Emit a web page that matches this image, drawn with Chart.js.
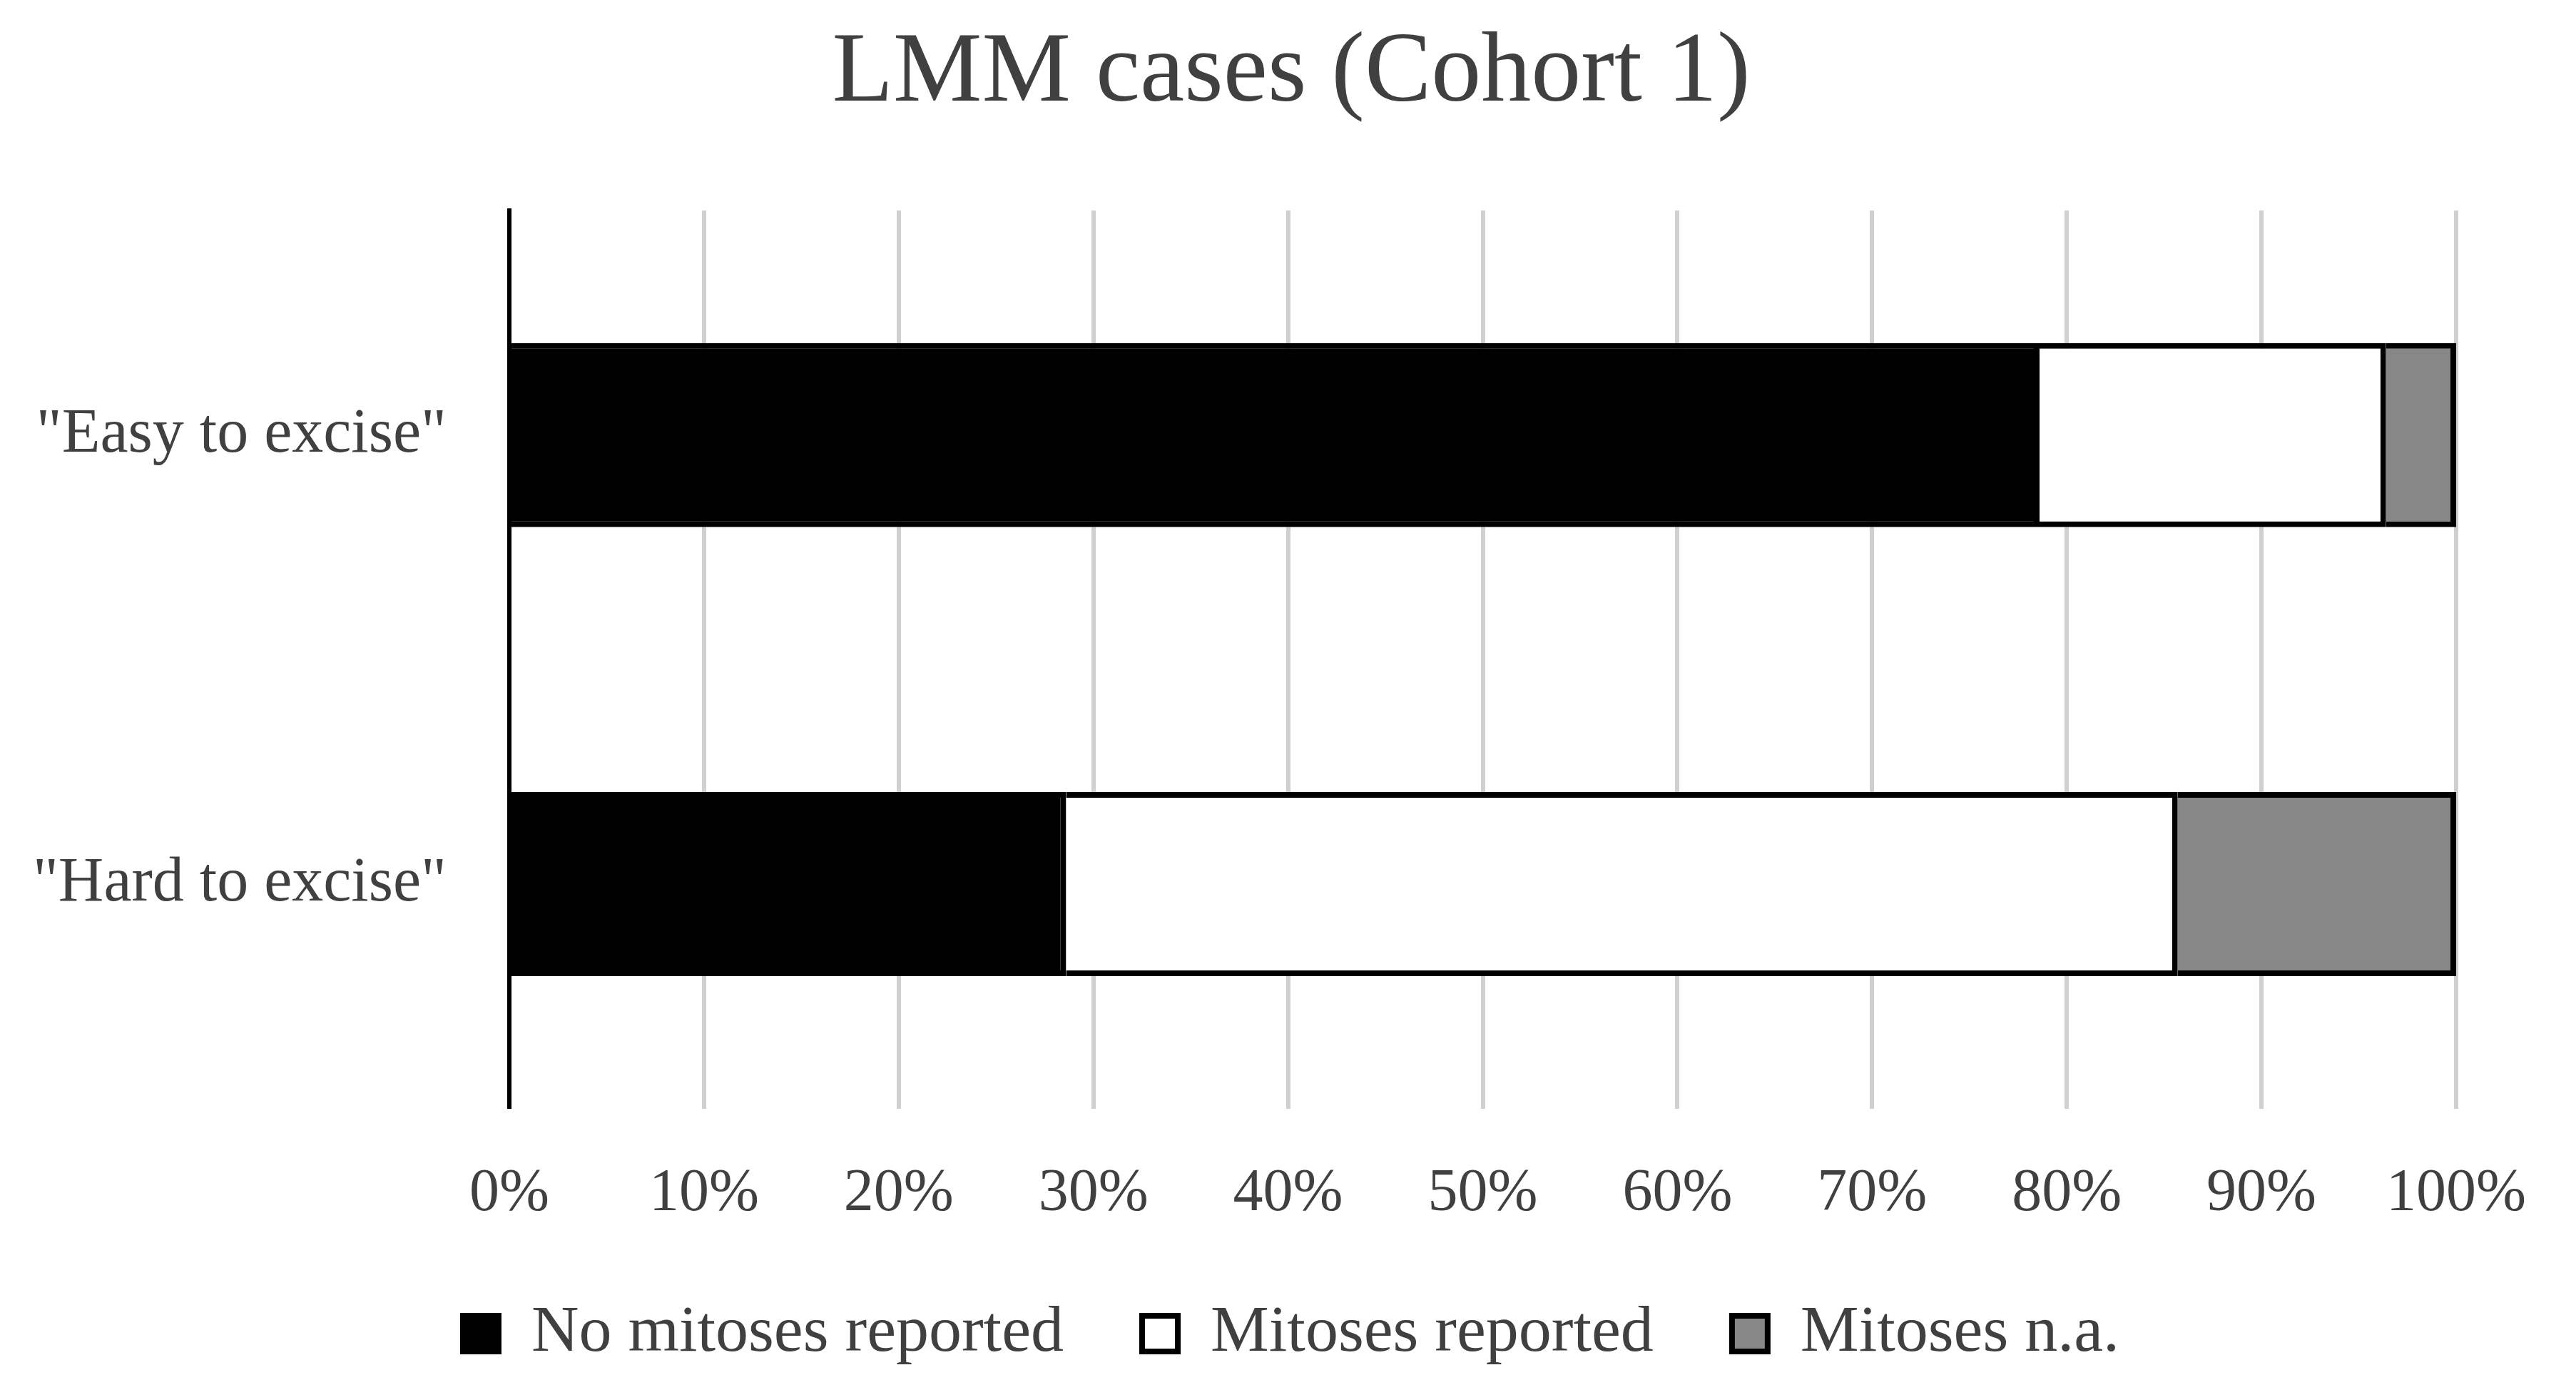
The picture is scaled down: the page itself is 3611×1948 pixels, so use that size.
<!DOCTYPE html>
<html>
<head>
<meta charset="utf-8">
<script src="https://cdn.jsdelivr.net/npm/chart.js@4/dist/chart.umd.min.js"></script>
<style>
  html, body { margin: 0; padding: 0; background: #fff; }
  #wrap { width: 3611px; height: 1948px; }
</style>
</head>
<body>
<div id="wrap"><canvas id="lmmChart" width="3611" height="1948"></canvas></div>
<script>
// ── Data ─────────────────────────────────────────────────────
const categories   = ['"Easy to excise"', '"Hard to excise"'];
const noMitoses    = [78.6, 28.6];   // % No mitoses reported
const mitoses      = [17.8, 57.1];   // % Mitoses reported
const mitosesNA    = [3.6, 14.3];    // % Mitoses n.a.
const seriesLabels = ['No mitoses reported', 'Mitoses reported', 'Mitoses n.a.'];

const FONT      = "'Liberation Serif', serif";
const TEXT_CLR  = '#404040';

const barStyle = fill => ({
  backgroundColor: fill,
  borderColor:     '#000',
  borderWidth:     8,
  barPercentage:   0.41,
  categoryPercentage: 1
});

new Chart(document.getElementById('lmmChart'), {
  type: 'bar',
  data: {
    labels: categories,
    datasets: [
      { label: seriesLabels[0], data: noMitoses, ...barStyle('#000000') },
      { label: seriesLabels[1], data: mitoses,   ...barStyle('#ffffff') },
      { label: seriesLabels[2], data: mitosesNA, ...barStyle('#878787') }
    ]
  },
  options: {
    indexAxis: 'y',
    responsive: false,
    devicePixelRatio: 1,
    animation: false,
    layout: { padding: { top: 20, left: 39, right: 30, bottom: 23 } },
    plugins: {
      title: {
        display: true,
        text: 'LMM cases (Cohort 1)',
        color: TEXT_CLR,
        font: { family: FONT, size: 140, weight: 'normal' },
        padding: { top: 0, bottom: 107 }
      },
      legend: {
        position: 'bottom',
        labels: {
          color: TEXT_CLR,
          font: { family: FONT, size: 92 },
          boxWidth: 50,
          boxHeight: 50,
          padding: 110
        }
      },
      tooltip: { enabled: false }
    },
    scales: {
      x: {
        stacked: true,
        min: 0, max: 100,
        ticks: {
          stepSize: 10,
          color: TEXT_CLR,
          font: { family: FONT, size: 84, lineHeight: 0.92 },
          padding: 0,
          callback: v => v + '%'
        },
        // invisible tick marks are used as the gap between plot and labels
        grid: {
          color: '#d0d0d0', lineWidth: 6,
          drawTicks: true, tickLength: 82, tickColor: 'rgba(0,0,0,0)'
        },
        border: { display: false }
      },
      y: {
        stacked: true,
        afterFit: s => { s.width = 675; },
        ticks: {
          color: TEXT_CLR,
          font: { family: FONT, size: 88 },
          padding: 88
        },
        grid: { display: false, drawTicks: false },
        border: { display: true, color: '#000', width: 6 }
      },
      // empty right-hand spacer so the plot ends where the reference does
      y2: {
        type: 'category',
        position: 'right',
        labels: [],
        afterFit: s => { s.width = 138; },
        ticks: { display: false },
        grid: { display: false, drawTicks: false },
        border: { display: false }
      }
    }
  }
});
</script>
</body>
</html>
